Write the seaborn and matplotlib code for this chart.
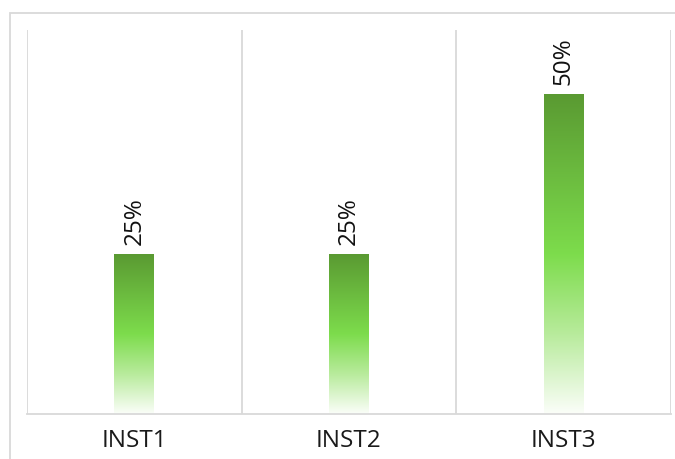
import numpy as np
import pandas as pd
import matplotlib
matplotlib.use("Agg")
import matplotlib.pyplot as plt
from matplotlib.colors import LinearSegmentedColormap
from matplotlib.patches import Rectangle
import seaborn as sns

categories = ["INST1", "INST2", "INST3"]
values = [0.25, 0.25, 0.50]

sns.set_theme(style="white")
plt.rcParams['font.family'] = ['Open Sans', 'DejaVu Sans']

df = pd.DataFrame({"cat": categories, "val": values})

fig = plt.figure(figsize=(6.75, 4.6), dpi=100)
fig.patch.set_facecolor("white")
# outer chart border (left and top visible)
fig.patches.append(Rectangle((9.5 / 675, -0.1), 1.2, 1 - 14 / 460 + 0.1,
                             transform=fig.transFigure, fill=False,
                             edgecolor="#d9d9d9", linewidth=1.3, zorder=0))

ax = fig.add_axes([27 / 675, 45 / 460, 644 / 675, 384 / 460])
sns.barplot(data=df, x="cat", y="val", ax=ax, width=0.186, color="#6cc040")
ax.set_ylim(0, 0.6)
ax.set_xlim(-0.5, len(categories) - 0.5)

cmap = LinearSegmentedColormap.from_list(
    "g", [(0.0, "#fbfef9"), (0.25, "#b8eb9c"), (0.5, "#7ddc4c"), (1.0, "#5a9a32")])
grad = np.linspace(0, 1, 256).reshape(-1, 1)
for p in ax.patches:
    x0, w, h = p.get_x(), p.get_width(), p.get_height()
    ax.imshow(grad, cmap=cmap, origin="lower", aspect="auto",
              extent=[x0, x0 + w, 0, h], zorder=2, interpolation="bicubic")
    p.set_facecolor("none")
    p.set_edgecolor("none")
ax.set_xlim(-0.5, len(categories) - 0.5)
ax.set_ylim(0, 0.6)

ax.bar_label(ax.containers[0], labels=[f"{v:.0%}" for v in values],
             rotation=90, padding=7, fontsize=17.5, color="#111111")

# vertical gridlines between categories
for xb in np.arange(-0.5, len(categories), 1.0):
    ax.axvline(xb, color="#d9d9d9", linewidth=1.3, zorder=1)

for s in ["top", "right", "left"]:
    ax.spines[s].set_visible(False)
ax.spines["bottom"].set_color("#d9d9d9")
ax.spines["bottom"].set_linewidth(1.3)

ax.set_xlabel("")
ax.set_ylabel("")
ax.set_yticks([])
ax.tick_params(axis="x", length=0, pad=10, labelsize=17.5, labelcolor="#1a1a1a")

fig.savefig("out.png", dpi=100, facecolor="white")
